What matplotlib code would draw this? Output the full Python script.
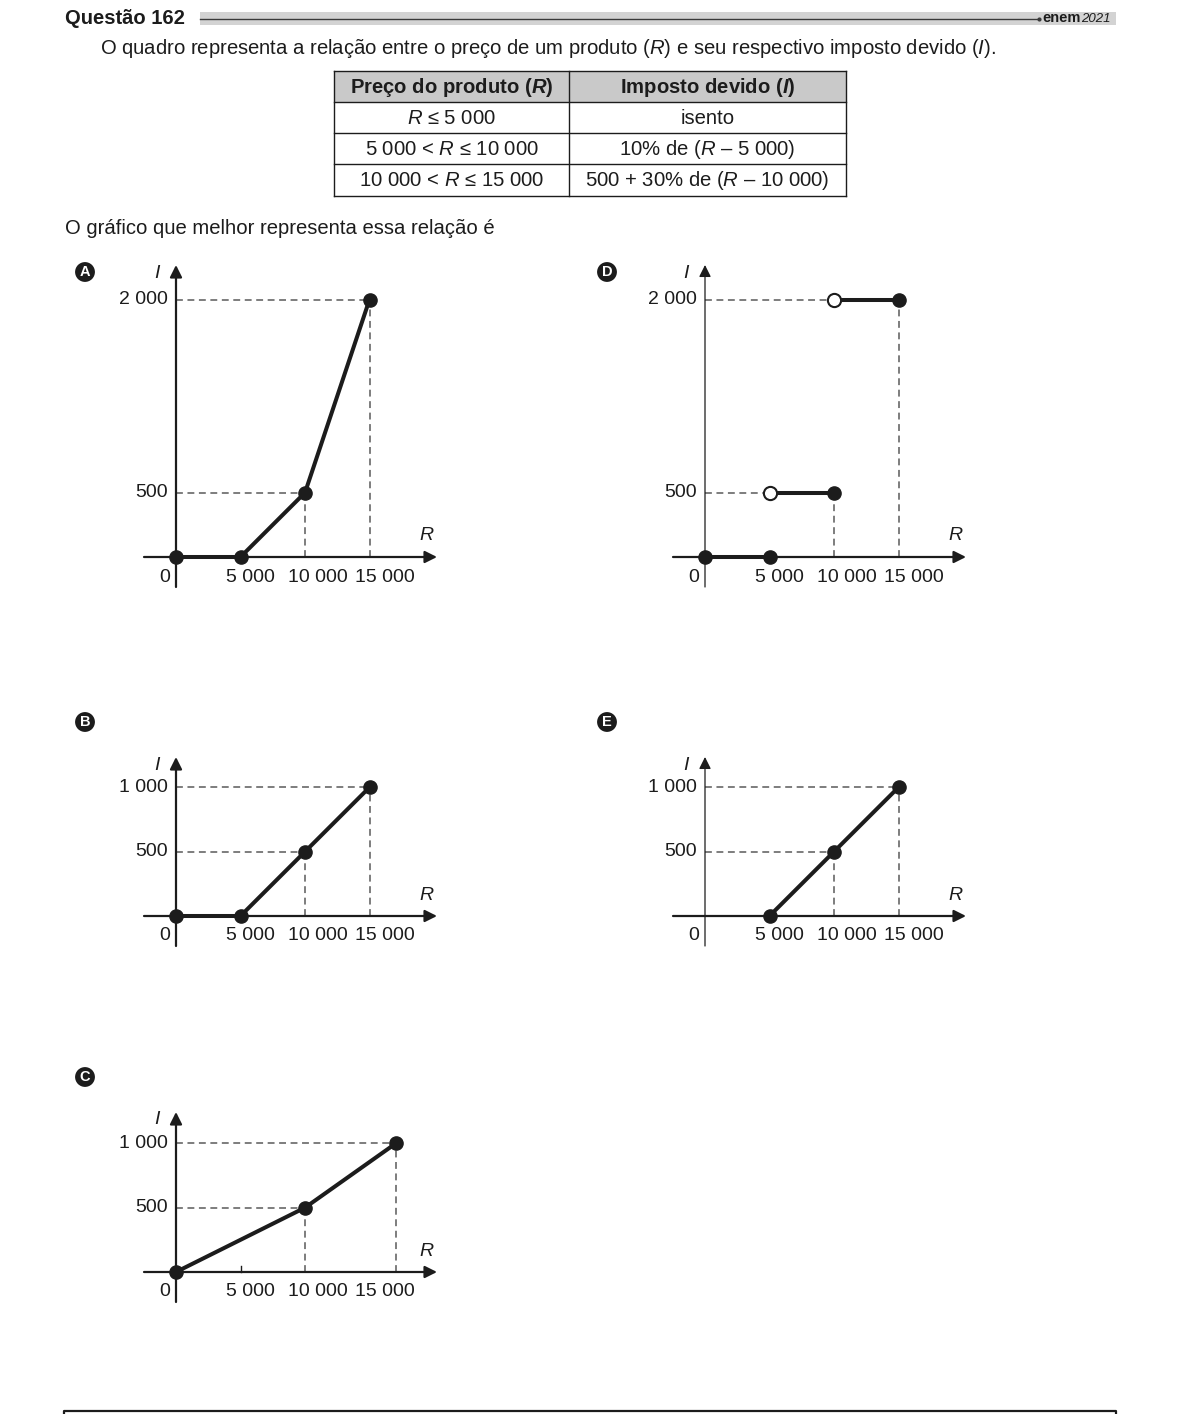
import numpy as np
import matplotlib
matplotlib.use('Agg')
import matplotlib.pyplot as plt
from matplotlib.patches import Rectangle

plt.rcParams['font.family'] = ['Liberation Sans', 'DejaVu Sans']
plt.rcParams['mathtext.fontset'] = 'custom'
plt.rcParams['mathtext.rm'] = 'Liberation Sans'
plt.rcParams['mathtext.it'] = 'Liberation Sans:italic'
plt.rcParams['mathtext.bf'] = 'Liberation Sans:bold'
plt.rcParams['mathtext.bfit'] = 'Liberation Sans:bold:italic'

W, H = 1182, 1414
INK = '#1c1c1c'
DASH = '#5a5a5a'

# ---- data ----
r_ticks = [5000, 10000, 15000]
r_labels = ['5 000', '10 000', '15 000']

a_r = [0, 5000, 10000, 15000]
a_i = [0, 0, 500, 2000]
b_r = [0, 5000, 10000, 15000]
b_i = [0, 0, 500, 1000]
c_r = [0, 10000, 15000]
c_i = [0, 500, 1000]
e_r = [5000, 10000, 15000]
e_i = [0, 500, 1000]
d_seg_r = [[0, 5000], [5000, 10000], [10000, 15000]]
d_seg_i = [0, 500, 2000]

big_yticks = [500, 2000]
big_ylabels = ['500', '2 000']
small_yticks = [500, 1000]
small_ylabels = ['500', '1 000']

table_head = ['Preço do produto ($\\mathbfit{R}$)', 'Imposto devido ($\\mathbfit{I}$)']
table_rows = [
    ['$R$ ≤ 5 000', 'isento'],
    ['5 000 < $R$ ≤ 10 000', '10% de ($R$ – 5 000)'],
    ['10 000 < $R$ ≤ 15 000', '500 + 30% de ($R$ – 10 000)'],
]

# ---- layout helpers (pixels) ----
sx = 64.5 / 5000   # px per unit of R
sy = 0.1287        # px per unit of I

fig = plt.figure(figsize=(W / 100, H / 100), dpi=100)
bg = fig.add_axes([0, 0, 1, 1])
bg.set_xlim(0, W)
bg.set_ylim(H, 0)
bg.axis('off')

FS = 14.6    # body / table text
TFS = 14     # chart labels


def make_axes(ox, oy, top, xscale=None):
    left, right = ox - 32, ox + 261
    bottom = oy + 30
    ax = fig.add_axes([left / W, 1 - bottom / H, (right - left) / W, (bottom - (oy - top)) / H])
    ax.patch.set_alpha(0)
    if xscale is not None:
        ax.set_xscale('function', functions=xscale)
        inv = xscale[1]
        ax.set_xlim(inv(np.array(-32 / sx)), inv(np.array(261 / sx)))
    else:
        ax.set_xlim(-32 / sx, 261 / sx)
    ax.set_ylim(-30 / sy, top / sy)
    ax.axis('off')
    return ax


def draw_axes(ax, ox, oy, top, yticks, ylabels, ylw):
    arrow = dict(arrowstyle='-|>', color=INK, mutation_scale=18, shrinkA=0, shrinkB=0)
    ax.annotate('', xy=(1, 0), xytext=(0, 0), xycoords=ax.get_yaxis_transform(),
                textcoords=ax.get_yaxis_transform(), arrowprops=dict(arrow, lw=1.6))
    ax.annotate('', xy=(0, 1), xytext=(0, 0), xycoords=ax.get_xaxis_transform(),
                textcoords=ax.get_xaxis_transform(), arrowprops=dict(arrow, lw=ylw))
    # labels in page pixels
    for v, lab in zip(yticks, ylabels):
        bg.text(ox - 8, oy - v * sy, lab, ha='right', va='center', fontsize=TFS, color=INK)
    bg.text(ox - 11, oy + 20, '0', ha='center', va='center', fontsize=TFS, color=INK)
    for v, lab in zip(r_ticks, r_labels):
        bg.text(ox + 6.5 + v * 0.0135, oy + 20, lab, ha='center', va='center', fontsize=TFS, color=INK)
    bg.text(ox - 19, oy - top + 8, 'I', ha='center', va='center', fontsize=TFS, style='italic', color=INK)
    bg.text(ox + 250, oy - 21, 'R', ha='center', va='center', fontsize=TFS, style='italic', color=INK)


def guides(ax, r, i):
    ax.plot([0, r], [i, i], color=DASH, lw=1.1, ls=(0, (4.5, 3)), zorder=1)
    ax.plot([r, r], [0, i], color=DASH, lw=1.1, ls=(0, (4.5, 3)), zorder=1)


def badge(x, y, letter):
    bg.text(x, y, letter, ha='center', va='center', fontsize=10.5, fontweight='bold', color='white',
            bbox=dict(boxstyle='circle,pad=0.2', fc=INK, ec='none'))


def polyline(ax, r, i):
    ax.plot(r, i, color=INK, lw=2.9, zorder=3, solid_capstyle='round')
    ax.plot(r, i, 'o', color=INK, ms=9.5, zorder=4)


# ---- header ----
bg.text(65, 18, 'Questão 162', ha='left', va='center', fontsize=14.5, fontweight='bold',
        color=INK)
bg.add_patch(Rectangle((200, 12), 916, 13, fc='#d3d3d3', ec='none'))
bg.plot([200, 1039], [19, 19], color='#3a3a3a', lw=1)
bg.plot([1039], [19], 'o', color='#3a3a3a', ms=2)
bg.text(1042, 18.5, 'enem', ha='left', va='center', fontsize=10.5, fontweight='bold', color=INK)
bg.text(1081, 19, '2021', ha='left', va='center', fontsize=9.5, style='italic', color=INK)

bg.text(100, 48, 'O quadro representa a relação entre o preço de um produto ($R$) e seu respectivo '
        'imposto devido ($I$).', ha='left', va='center', fontsize=FS, color=INK)

# ---- table ----
tx = [334, 569, 846]
ty = [71, 102, 133, 164, 196]
bg.add_patch(Rectangle((tx[0], ty[0]), tx[2] - tx[0], ty[1] - ty[0], fc='#c9c9c9', ec='none'))
for y in ty:
    bg.plot([tx[0], tx[2]], [y, y], color=INK, lw=1)
for x in tx:
    bg.plot([x, x], [ty[0], ty[-1]], color=INK, lw=1)
for k, txt in enumerate(table_head):
    bg.text((tx[k] + tx[k + 1]) / 2, (ty[0] + ty[1]) / 2 + 1, txt, ha='center', va='center',
            fontsize=FS, fontweight='bold', color=INK)
for j, row in enumerate(table_rows):
    for k, txt in enumerate(row):
        bg.text((tx[k] + tx[k + 1]) / 2, (ty[j + 1] + ty[j + 2]) / 2 + 1, txt, ha='center',
                va='center', fontsize=FS, color=INK)

bg.text(65, 228, 'O gráfico que melhor representa essa relação é', ha='left', va='center',
        fontsize=FS, color=INK)

# ---- chart A ----
ox, oy, top = 176, 557, 292
ax = make_axes(ox, oy, top)
draw_axes(ax, ox, oy, top, big_yticks, big_ylabels, 1.6)
for r, i in zip(a_r, a_i):
    if i > 0:
        guides(ax, r, i)
polyline(ax, a_r, a_i)
badge(85, 272, 'A')

# ---- chart D ----
ox, oy, top = 705, 557, 292
ax = make_axes(ox, oy, top)
draw_axes(ax, ox, oy, top, big_yticks, big_ylabels, 0.9)
for seg, i in zip(d_seg_r, d_seg_i):
    if i > 0:
        ax.plot([0, seg[0]], [i, i], color=DASH, lw=1.1, ls=(0, (4.5, 3)), zorder=1)
        ax.plot([seg[1], seg[1]], [0, i], color=DASH, lw=1.1, ls=(0, (4.5, 3)), zorder=1)
    ax.plot(seg, [i, i], color=INK, lw=2.9, zorder=3)
    ax.plot([seg[1]], [i], 'o', color=INK, ms=9.5, zorder=4)
    if i > 0:
        ax.plot([seg[0]], [i], 'o', mfc='white', mec=INK, mew=1.5, ms=9.5, zorder=4)
    else:
        ax.plot([seg[0]], [i], 'o', color=INK, ms=9.5, zorder=4)
badge(607, 272, 'D')

# ---- chart B ----
ox, oy, top = 176, 916, 159
ax = make_axes(ox, oy, top)
draw_axes(ax, ox, oy, top, small_yticks, small_ylabels, 1.6)
for r, i in zip(b_r, b_i):
    if i > 0:
        guides(ax, r, i)
polyline(ax, b_r, b_i)
badge(85, 722, 'B')

# ---- chart E ----
ox, oy, top = 705, 916, 159
ax = make_axes(ox, oy, top)
draw_axes(ax, ox, oy, top, small_yticks, small_ylabels, 0.9)
for r, i in zip(e_r, e_i):
    if i > 0:
        guides(ax, r, i)
polyline(ax, e_r, e_i)
badge(607, 722, 'E')

# ---- chart C (x axis drawn stretched beyond 10 000 in the original) ----
kx = [-1e6, 10000, 15000, 1e6]
ky = [-1e6, 10000, 17050, 1e6 + 2050]


def c_fwd(x):
    return np.interp(x, kx, ky)


def c_inv(x):
    return np.interp(x, ky, kx)


ox, oy, top = 176, 1272, 160
ax = make_axes(ox, oy, top, xscale=(c_fwd, c_inv))
draw_axes(ax, ox, oy, top, small_yticks, small_ylabels, 1.6)
ax.plot([5000, 5000], [0, 6 / sy], color=INK, lw=1)
for r, i in zip(c_r, c_i):
    if i > 0:
        guides(ax, r, i)
polyline(ax, c_r, c_i)
badge(85, 1077, 'C')

# ---- bottom frame ----
bg.plot([64, 64, 1116, 1116], [H + 5, 1411, 1411, H + 5], color=INK, lw=1.6)

fig.savefig('out.png', dpi=100)
